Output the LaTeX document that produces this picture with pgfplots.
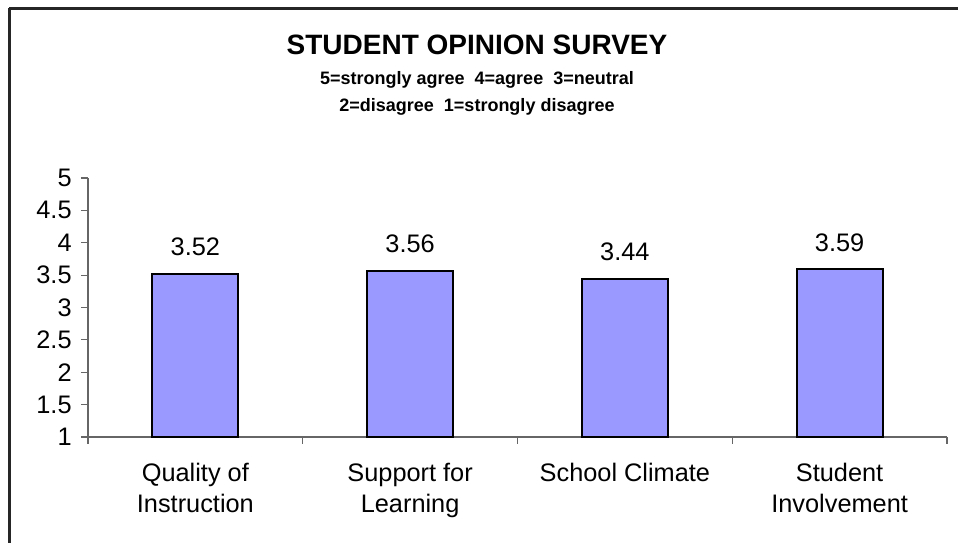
\documentclass[border=0pt]{standalone}
\usepackage{pgfplots}
\pgfplotsset{compat=1.18}
\usepackage{fontspec}
\setmainfont{Liberation Sans}
\definecolor{barblue}{HTML}{9999FF}
\begin{document}
\begin{tikzpicture}
\path[use as bounding box] (0pt,0pt) rectangle (718.5pt,407.25pt);
\draw[black!85, line width=1.6pt] (6.75pt,400.875pt) -- (718.5pt,400.875pt);
\draw[black!85, line width=1.6pt] (7.125pt,401.25pt) -- (7.125pt,0pt);
\node[font=\fontsize{21}{25}\selectfont\bfseries] at (357.75pt,373.5pt) {STUDENT OPINION SURVEY};
\node[font=\fontsize{13.5}{16}\selectfont\bfseries] at (357.75pt,347.25pt) {5=strongly agree\ \ 4=agree\ \ 3=neutral};
\node[font=\fontsize{13.5}{16}\selectfont\bfseries] at (357.75pt,327pt) {2=disagree\ \ 1=strongly disagree};
\begin{axis}[
  at={(66pt,79.5pt)}, anchor=south west,
  scale only axis, width=644.25pt, height=194.25pt,
  xmin=-0.5, xmax=3.5, ymin=1, ymax=5,
  axis lines*=left,
  axis line style={black!60, line width=0.8pt},
  tick style={black!60, line width=0.8pt},
  tick align=outside, major tick length=5.25pt,
  ytick={1,1.5,2,2.5,3,3.5,4,4.5,5},
  yticklabels={1,1.5,2,2.5,3,3.5,4,4.5,5},
  yticklabel style={font=\fontsize{19}{22}\selectfont, xshift=-3.5pt},
  xtick={-0.5,0.5,1.5,2.5,3.5}, xticklabels={},
  extra x ticks={0,1,2,3},
  extra x tick labels={Quality of\\Instruction,Support for\\Learning,School Climate,Student\\Involvement},
  extra x tick style={major tick length=0pt, xticklabel style={align=center, font=\fontsize{19}{23.25}\selectfont, yshift=-16pt}},
  /pgf/number format/assume math mode=true,
  clip=false,
]
\addplot[ybar, bar width=64.5pt, fill=barblue, draw=black, line width=1.5pt,
  nodes near coords,
  nodes near coords style={font=\fontsize{19}{22}\selectfont, anchor=south, inner sep=0pt, yshift=12.75pt, /pgf/number format/.cd, fixed, precision=2, fixed zerofill, assume math mode=true},
] coordinates {(0,3.52) (1,3.56) (2,3.44) (3,3.59)};
\end{axis}
\end{tikzpicture}
\end{document}
